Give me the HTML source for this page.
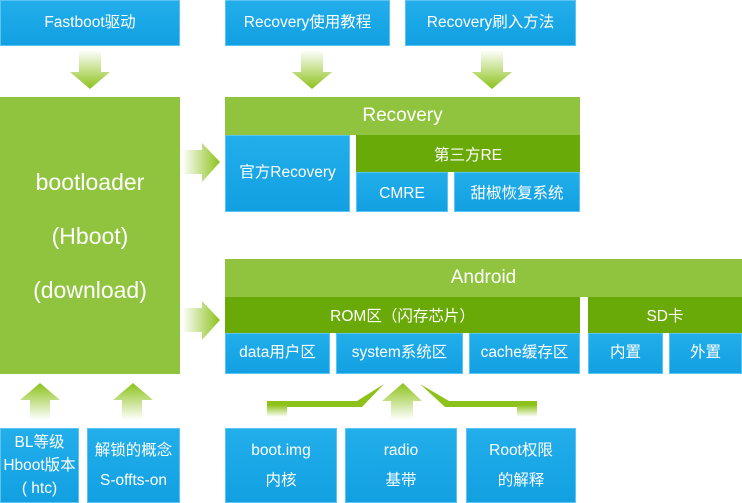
<!DOCTYPE html>
<html><head><meta charset="utf-8"><style>
body{margin:0;width:742px;height:503px;position:relative;background:#fff;overflow:hidden;font-family:"Liberation Sans","Noto Sans CJK SC",sans-serif;color:#fff}
.b{position:absolute;box-sizing:border-box;background:linear-gradient(#22aeea,#12a0e2);border:1px solid #5cc4f2;display:flex;align-items:center;justify-content:center;text-align:center;font-size:15.5px;line-height:1.6}
.g{position:absolute;background:#90c43e;display:flex;align-items:center;justify-content:center;text-align:center}
.d{position:absolute;background:#6aaa08;display:flex;align-items:center;justify-content:center;font-size:15.5px}
svg{position:absolute;left:0;top:0}
</style></head><body>
<div class="b" style="left:0;top:0;width:180px;height:46px">Fastboot驱动</div>
<div class="b" style="left:225px;top:0;width:165px;height:46px">Recovery使用教程</div>
<div class="b" style="left:405px;top:0;width:171px;height:46px">Recovery刷入方法</div>

<div class="g" style="left:0;top:97px;width:180px;height:277px;font-size:23px;line-height:54px">bootloader<br>(Hboot)<br>(download)</div>

<div class="g" style="left:225px;top:97px;width:355px;height:38px;font-size:19px">Recovery</div>
<div class="b" style="left:225px;top:135px;width:125px;height:77px">官方Recovery</div>
<div class="d" style="left:356px;top:135px;width:224px;height:37px">第三方RE</div>
<div class="b" style="left:356px;top:172px;width:92px;height:40px;padding-top:5px">CMRE</div>
<div class="b" style="left:454px;top:172px;width:126px;height:40px;padding-top:5px">甜椒恢复系统</div>

<div class="g" style="left:225px;top:259px;width:517px;height:38px;font-size:19px">Android</div>
<div class="d" style="left:225px;top:297px;width:355px;height:36px">ROM区（闪存芯片）</div>
<div class="d" style="left:588px;top:297px;width:154px;height:36px">SD卡</div>
<div class="b" style="left:225px;top:333px;width:105px;height:41px">data用户区</div>
<div class="b" style="left:336px;top:333px;width:127px;height:41px">system系统区</div>
<div class="b" style="left:469px;top:333px;width:111px;height:41px">cache缓存区</div>
<div class="b" style="left:588px;top:333px;width:75px;height:41px">内置</div>
<div class="b" style="left:669px;top:333px;width:73px;height:41px">外置</div>

<div class="b" style="left:0;top:428px;width:79px;height:75px;line-height:1.5">BL等级<br>Hboot版本<br>( htc)</div>
<div class="b" style="left:87px;top:428px;width:93px;height:75px;line-height:1.9">解锁的概念<br>S-offts-on</div>
<div class="b" style="left:225px;top:428px;width:112px;height:75px;line-height:1.9">boot.img<br>内核</div>
<div class="b" style="left:345px;top:428px;width:112px;height:75px;line-height:1.9">radio<br>基带</div>
<div class="b" style="left:466px;top:428px;width:110px;height:75px;line-height:1.9">Root权限<br>的解释</div>

<svg width="742" height="503">
<defs>
<linearGradient id="vd" x1="0" y1="0" x2="0" y2="1"><stop offset="0" stop-color="#fff"/><stop offset="1" stop-color="#8cc21a"/></linearGradient>
<linearGradient id="vu" x1="0" y1="1" x2="0" y2="0"><stop offset="0" stop-color="#fff"/><stop offset="1" stop-color="#8cc21a"/></linearGradient>
<linearGradient id="hr" x1="0" y1="0" x2="1" y2="0"><stop offset="0" stop-color="#fff"/><stop offset="1" stop-color="#8cc21a"/></linearGradient>
<linearGradient id="fd" x1="0" y1="0" x2="0" y2="1"><stop offset="0" stop-color="#8cc21a"/><stop offset="1" stop-color="#fff"/></linearGradient>
</defs>
<polygon points="79,50 101,50 101,72 110,72 90,89 70,72 79,72" fill="url(#vd)"/>
<polygon points="301,50 323,50 323,72 332,72 312,89 292,72 301,72" fill="url(#vd)"/>
<polygon points="481,50 503,50 503,72 512,72 492,89 472,72 481,72" fill="url(#vd)"/>
<polygon points="182,150 202,150 202,143 220,162 202,182 202,174 182,174" fill="url(#hr)"/>
<polygon points="182,308 202,308 202,301 220,320 202,340 202,332 182,332" fill="url(#hr)"/>
<polygon points="30,420 50,420 50,400 60,400 40,383 20,400 30,400" fill="url(#vu)"/>
<polygon points="122,420 142,420 142,400 153,400 133,383 113,400 122,400" fill="url(#vu)"/>
<polygon points="391,420 413,420 413,401 422,401 403,383 382,401 391,401" fill="url(#vu)"/>
<polygon points="267,401 357,401 384,384 362,407 287,407 287,415 267,415" fill="#8cc21a"/>
<rect x="267" y="405" width="20" height="12" fill="url(#fd)"/>
<polygon points="420,384 449,401 537,401 537,415 517,415 517,407 445,407" fill="#8cc21a"/>
<rect x="517" y="405" width="20" height="12" fill="url(#fd)"/>
</svg>
</body></html>
